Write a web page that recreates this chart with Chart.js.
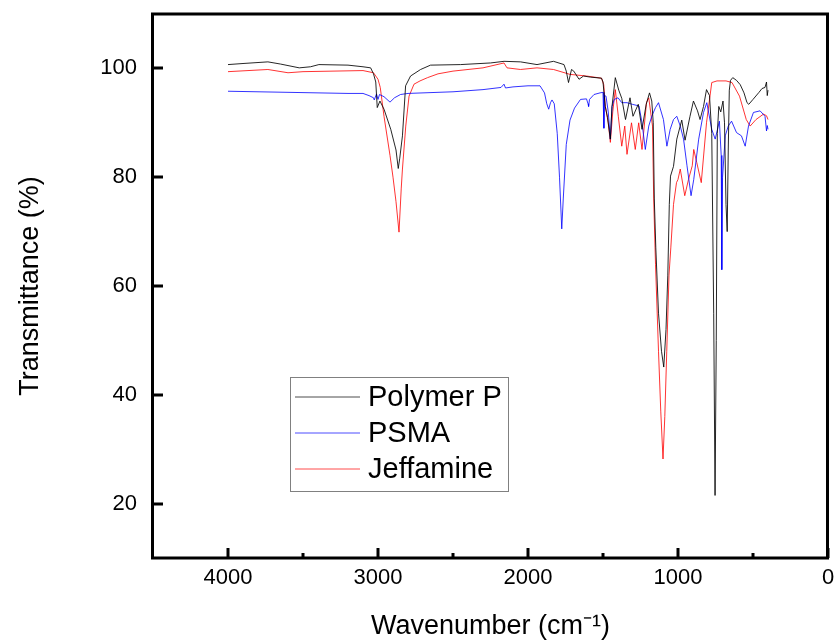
<!DOCTYPE html>
<html>
<head>
<meta charset="utf-8">
<script src="https://cdn.jsdelivr.net/npm/chart.js@4.4.1/dist/chart.umd.min.js"></script>
<style>
  body{margin:0;background:#fff;}
  #wrap{width:834px;height:640px;position:relative;}
</style>
</head>
<body>
<div id="wrap"><canvas id="ftir" width="834" height="640"></canvas></div>
<script>
// FTIR spectra, wavenumber (cm-1) vs transmittance (%)
var seriesNames=['Polymer P','PSMA','Jeffamine'];
var seriesColors=['#000000','#0000ff','#ff0000'];

var wnPolymer=[
  4000,3900,3734,3650,3525,3450,3394,3200,3100,3049,
  3030,3015,3005,2987,2960,2915,2880,2865,2855,2837,
  2816,2783,2716,2650,2450,2250,2160,2050,1940,1830,
  1760,1745,1730,1710,1695,1660,1630,1585,1510,1500,
  1485,1470,1451,1440,1418,1395,1375,1350,1320,1300,
  1265,1240,1212,1190,1175,1165,1158,1148,1130,1110,
  1095,1080,1068,1058,1050,1030,1008,975,953,920,
  897,870,853,830,810,790,775,762,753,745,
  738,728,715,700,690,680,672,665,658,650,
  635,610,585,560,540,528,500,460,440,420,
  410,405,400];
var tPolymer=[
  100.7,100.9,101.2,100.8,100.1,100.3,100.7,100.6,100.3,100.1,
  99.0,97.5,92.8,94.0,92.5,88.8,85.0,81.6,83.5,87.6,
  96.8,98.6,99.8,100.6,100.7,101.0,101.3,101.2,100.7,101.3,
  100.7,99.5,97.4,99.8,99.5,98.0,98.6,98.4,98.2,97.5,
  93.0,91.0,87.0,93.0,98.3,96.0,94.5,90.6,94.6,91.2,
  93.4,88.8,93.4,95.5,94.0,90.0,76.0,67.0,55.0,48.0,
  45.1,52.0,62.0,75.0,80.2,82.0,87.0,90.5,86.8,91.2,
  94.0,92.2,90.6,93.0,96.1,95.0,88.0,55.0,21.5,50.0,
  88.0,93.0,92.0,94.0,90.0,75.0,70.0,85.0,96.0,97.8,
  98.3,97.8,97.0,95.5,93.7,93.4,94.3,95.6,96.3,96.5,
  97.5,95.0,96.0];

var wnPsma=[
  4000,3800,3600,3400,3200,3100,3060,3030,3025,3010,
  3000,2990,2960,2920,2890,2850,2800,2700,2500,2300,
  2180,2160,2150,2100,2000,1920,1890,1875,1862,1850,
  1840,1825,1805,1790,1775,1765,1745,1720,1690,1650,
  1610,1600,1596,1590,1560,1520,1500,1494,1490,1480,
  1465,1451,1440,1425,1400,1375,1340,1305,1260,1240,
  1218,1195,1175,1150,1130,1097,1074,1052,1030,1008,
  985,963,940,913,895,862,830,808,775,752,
  724,712,708,703,685,665,643,610,577,552,
  530,497,453,420,410,405,400];
var tPsma=[
  95.8,95.7,95.6,95.5,95.4,95.4,95.0,94.6,94.2,95.3,
  94.3,95.2,94.8,93.8,94.6,95.2,95.4,95.5,95.7,96.1,
  96.5,97.1,96.4,96.6,96.8,96.8,95.5,93.5,92.5,93.7,
  94.2,93.5,88.0,80.0,70.5,76.0,86.0,90.5,92.7,94.3,
  94.4,93.5,93.0,94.3,95.2,95.5,95.6,89.0,95.0,94.9,
  92.0,87.0,93.0,94.3,94.6,93.7,93.7,93.4,93.1,90.0,
  85.1,89.4,91.2,92.8,93.7,90.6,85.7,88.8,90.6,91.2,
  89.4,87.0,82.1,76.6,79.6,87.0,91.9,93.7,88.8,87.0,
  90.3,84.0,63.0,80.0,87.6,89.4,90.3,88.2,87.6,85.7,
  89.4,91.9,92.2,91.2,88.5,89.5,88.8];

var wnJeff=[
  4000,3734,3600,3500,3300,3100,3030,3000,2985,2960,
  2920,2900,2880,2860,2845,2837,2815,2793,2760,2720,
  2670,2600,2500,2300,2160,2140,2050,1940,1830,1720,
  1610,1510,1495,1485,1465,1451,1435,1418,1398,1375,
  1355,1340,1310,1285,1262,1240,1210,1195,1170,1162,
  1150,1130,1115,1100,1088,1075,1060,1048,1030,1010,
  1000,985,955,930,905,895,875,845,810,775,
  740,680,640,590,545,519,480,430,410,400];
var tJeff=[
  99.4,99.8,99.2,99.4,99.5,99.6,99.2,98.0,96.5,91.2,
  84.0,80.0,75.5,69.9,78.0,81.5,89.4,94.9,97.1,97.7,
  98.3,99.0,99.5,100.1,101.0,100.1,99.8,100.1,99.8,98.9,
  98.6,98.2,97.0,93.1,90.0,86.4,92.0,96.1,91.2,85.7,
  89.4,84.2,90.0,85.1,90.0,85.1,93.7,94.6,89.4,76.0,
  64.0,48.0,37.0,28.2,36.0,48.0,62.0,67.0,75.0,79.0,
  79.6,81.5,76.6,79.6,82.1,85.1,82.7,79.0,90.0,97.4,
  97.7,97.7,97.4,94.9,90.6,89.4,90.6,91.6,91.3,90.6];

var xMajor=[4000,3000,2000,1000,0];
var xMinor=[3500,2500,1500,500];
var yMajor=[20,40,60,80,100];

function pts(wn,t){
  var out=[];
  for(var i=0;i<wn.length;i++){ out.push({x:wn[i],y:t[i]}); }
  return out;
}

var fontFam='"Liberation Sans", Arial, sans-serif';

var framePlugin={
  id:'frame',
  afterDatasetsDraw:function(chart){
    var ctx=chart.ctx, a=chart.chartArea, x=chart.scales.x, y=chart.scales.y;
    ctx.save();
    ctx.strokeStyle='#000';
    ctx.lineWidth=3;
    ctx.strokeRect(a.left-0.5,a.top,a.right-a.left,a.bottom-a.top);
    ctx.beginPath();
    xMajor.forEach(function(v){
      var p=Math.round(x.getPixelForValue(v));
      ctx.moveTo(p,a.bottom); ctx.lineTo(p,a.bottom-10);
    });
    xMinor.forEach(function(v){
      var p=Math.round(x.getPixelForValue(v));
      ctx.moveTo(p,a.bottom); ctx.lineTo(p,a.bottom-5);
    });
    yMajor.forEach(function(v){
      var p=Math.round(y.getPixelForValue(v));
      ctx.moveTo(a.left,p); ctx.lineTo(a.left+10,p);
    });
    ctx.stroke();

    // legend box
    var lx=290, ly=377, lw=218, lh=114;
    ctx.fillStyle='#fff';
    ctx.fillRect(lx,ly,lw,lh);
    ctx.lineWidth=1;
    ctx.strokeStyle='#808080';
    ctx.strokeRect(lx+0.5,ly+0.5,lw,lh);
    ctx.font='29px '+fontFam;
    ctx.textBaseline='middle';
    ctx.textAlign='left';
    for(var i=0;i<seriesNames.length;i++){
      var yy=397+i*36;
      ctx.strokeStyle=seriesColors[i];
      ctx.globalAlpha=0.7;
      ctx.beginPath();
      ctx.moveTo(295,yy); ctx.lineTo(360,yy);
      ctx.stroke();
      ctx.globalAlpha=1;
      ctx.fillStyle='#000';
      ctx.fillText(seriesNames[i],368,yy+1);
    }
    ctx.restore();
  }
};

var ctx=document.getElementById('ftir');
var chart=new Chart(ctx,{
  type:'line',
  data:{
    datasets:[
      {label:seriesNames[0],data:pts(wnPolymer,tPolymer),borderColor:'rgba(0,0,0,0.85)'},
      {label:seriesNames[1],data:pts(wnPsma,tPsma),borderColor:'rgba(0,0,255,0.8)'},
      {label:seriesNames[2],data:pts(wnJeff,tJeff),borderColor:'rgba(255,0,0,0.8)'}
    ]
  },
  options:{
    responsive:false,
    animation:false,
    events:[],
    layout:{padding:{top:14,right:6,left:0,bottom:0}},
    elements:{
      line:{borderWidth:1,tension:0,fill:false},
      point:{radius:0}
    },
    plugins:{legend:{display:false},tooltip:{enabled:false}},
    scales:{
      x:{
        type:'linear',
        reverse:true,
        min:0,max:4500,
        afterBuildTicks:function(s){ s.ticks=xMajor.map(function(v){return {value:v};}); },
        afterFit:function(s){ s.height=82; s.paddingLeft=0; s.paddingRight=0; },
        grid:{display:false,drawTicks:false},
        border:{display:false},
        ticks:{color:'#000',font:{family:fontFam,size:22},padding:7,maxRotation:0,
               callback:function(v){ return String(v); }},
        title:{display:true,text:'Wavenumber (cm\u207B\u00B9)',color:'#000',
               font:{family:fontFam,size:27,lineHeight:1},padding:{top:0,bottom:0}}
      },
      y:{
        type:'linear',
        min:10,max:110,
        afterBuildTicks:function(s){ s.ticks=yMajor.map(function(v){return {value:v};}); },
        afterFit:function(s){ s.width=153; s.paddingTop=0; s.paddingBottom=0; },
        grid:{display:false,drawTicks:false},
        border:{display:false},
        ticks:{color:'#000',font:{family:fontFam,size:22},padding:16,
               callback:function(v){ return String(v); }},
        title:{display:true,text:'Transmittance (%)',color:'#000',
               font:{family:fontFam,size:27,lineHeight:1},padding:{top:17,bottom:0}}
      }
    }
  },
  plugins:[framePlugin]
});
</script>
</body>
</html>
